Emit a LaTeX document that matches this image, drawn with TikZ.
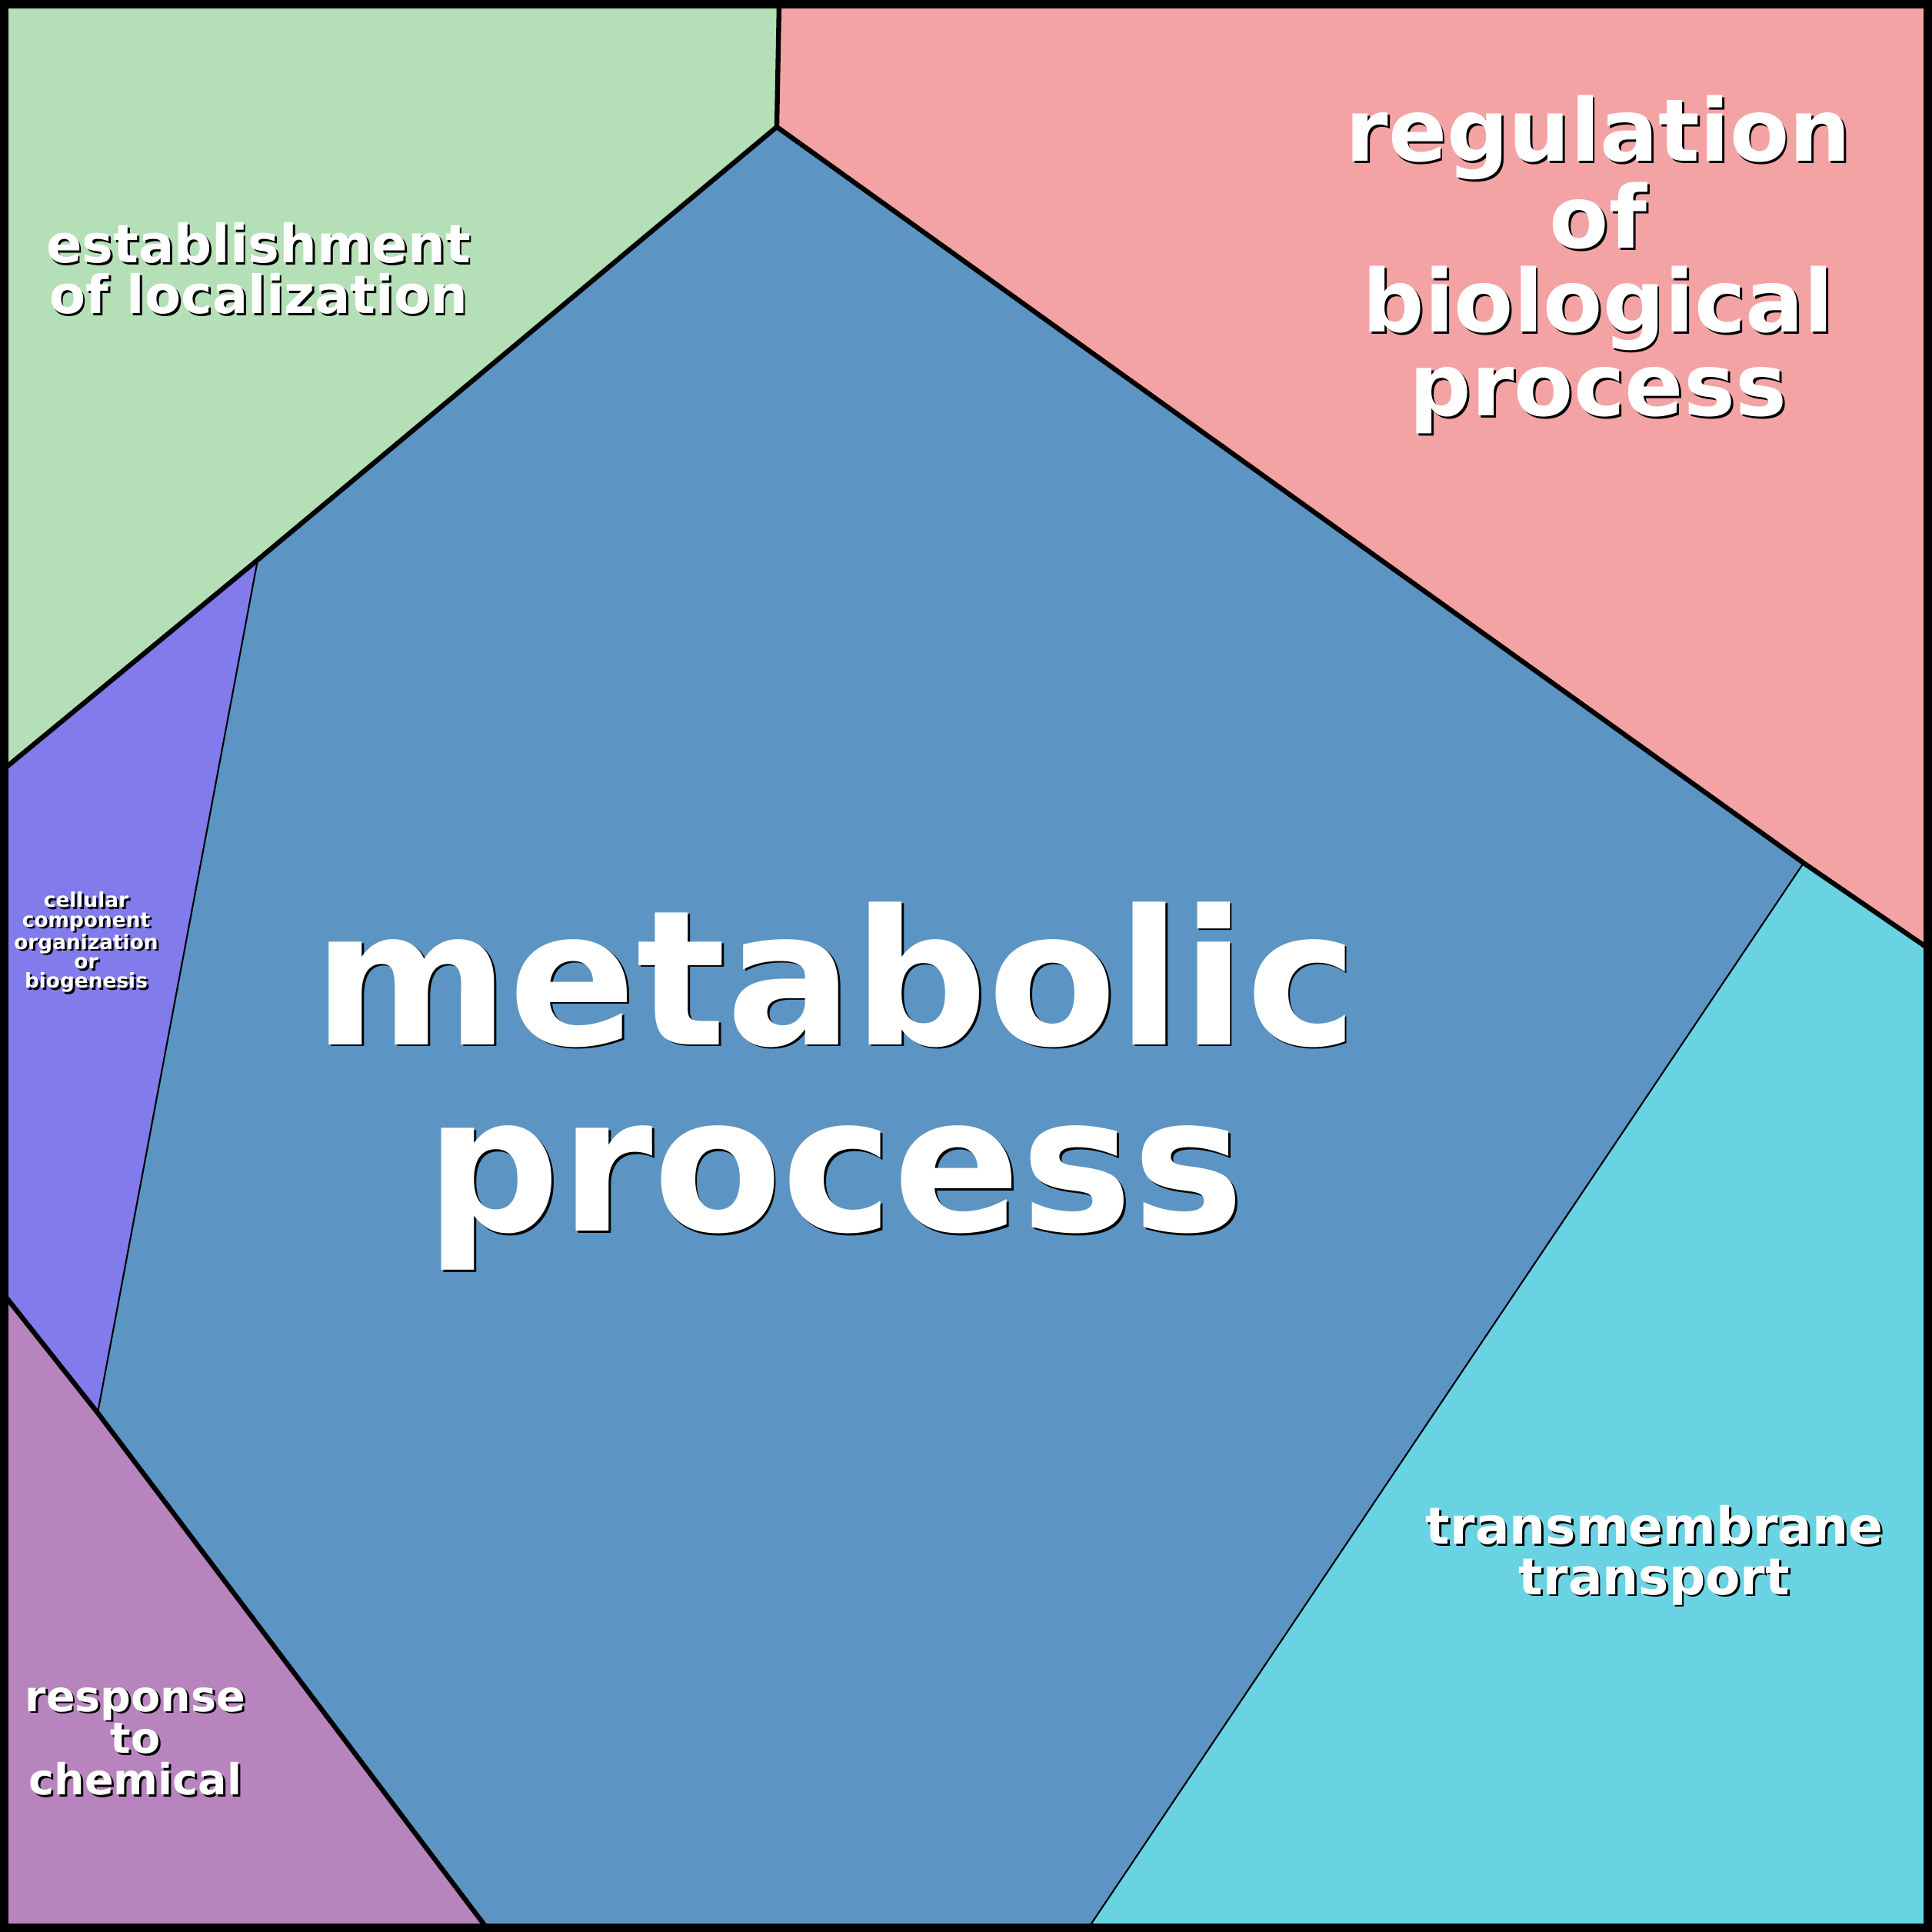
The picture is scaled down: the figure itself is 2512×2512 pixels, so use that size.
\documentclass[tikz,border=0pt]{standalone}
\usepackage{fontspec}
\setmainfont{DejaVu Sans}
\usetikzlibrary{positioning}
\definecolor{cellgreen}{HTML}{B5DFB7}
\definecolor{cellred}{HTML}{F4A3A5}
\definecolor{cellblue}{HTML}{5C95C3}
\definecolor{cellviolet}{HTML}{827BEB}
\definecolor{cellmauve}{HTML}{B784BD}
\definecolor{cellcyan}{HTML}{69D3E3}
\tikzset{
  edge/.style={line width=1.8pt, line join=round},
  thinedge/.style={line width=0.6pt},
  label/.style={align=center, text=white, inner sep=0pt},
  shadow/.style={align=center, text=black, inner sep=0pt},
}
% white label with a small dark shadow
\newcommand{\celltext}[4]{%
  \node[shadow, font=\bfseries\fontsize{#2}{#3}\selectfont] (#1s) at ([xshift=0.8pt,yshift=-0.8pt]#1c) {#4};
  \node[label, font=\bfseries\fontsize{#2}{#3}\selectfont] (#1) at (#1c) {#4};}

\begin{document}
\begin{tikzpicture}[x=0.01cm, y=-0.01cm]
  \useasboundingbox (0,0) rectangle (2512,2512);
  % cells
  \fill[cellgreen] (5,5) -- (1013,5) -- (1010,165) -- (335,728) -- (5,1000) -- cycle;
  \fill[cellred] (1013,5) -- (2507,5) -- (2507,1233) -- (2345,1122) -- (1010,165) -- cycle;
  \fill[cellblue] (1010,165) -- (2345,1122) -- (1415,2507) -- (633,2507) -- (127,1837) -- (335,728) -- cycle;
  \fill[cellviolet] (5,1000) -- (335,728) -- (127,1837) -- (5,1683) -- cycle;
  \fill[cellmauve] (5,1683) -- (127,1837) -- (633,2507) -- (5,2507) -- cycle;
  \fill[cellcyan] (2345,1122) -- (2507,1233) -- (2507,2507) -- (1415,2507) -- cycle;

  % borders
  \draw[edge] (1013,5) -- (1010,165) -- (2345,1122) -- (2507,1233);
  \draw[edge] (5,1000) -- (335,728) -- (1010,165);
  \draw[edge] (5,1683) -- (127,1837) -- (633,2507);
  \draw[thinedge] (2345,1122) -- (1415,2507);
  \draw[thinedge] (335,728) -- (127,1837);
  \draw[line width=3.2pt] (5,5) rectangle (2507,2507);

  % labels
  \coordinate (metac) at (1086,1412);
  \coordinate (regc) at (2078,344);
  \coordinate (estc) at (336,349);
  \coordinate (tranc) at (2151,2022);
  \coordinate (respc) at (176,2264);
  \coordinate (cellc) at (112,1225);
  \celltext{meta}{69.5pt}{69pt}{metabolic\\process}
  \celltext{reg}{32pt}{31pt}{regulation\\of\\biological\\process}
  \celltext{est}{19.5pt}{18.7pt}{establishment\\of localization}
  \celltext{tran}{18.8pt}{18.7pt}{transmembrane\\transport}
  \celltext{resp}{15.8pt}{15.4pt}{response\\to\\chemical}
  \celltext{cell}{7.5pt}{7.2pt}{cellular\\component\\organization\\or\\biogenesis}
\end{tikzpicture}
\end{document}
